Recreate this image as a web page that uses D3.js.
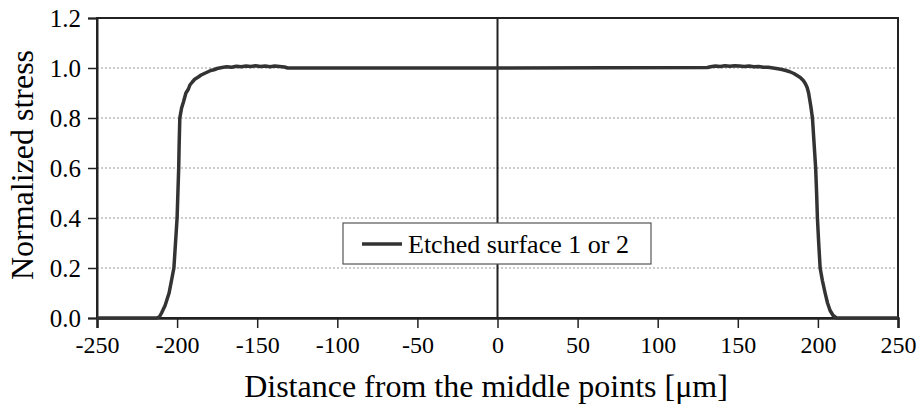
<!DOCTYPE html>
<html>
<head>
<meta charset="utf-8">
<script src="https://cdn.jsdelivr.net/npm/d3@7/dist/d3.min.js"></script>
</head>
<body style="margin:0">
<svg id="chart" width="922" height="410"></svg>
<script>
// Stress profile across the specimen: position [µm] and normalized stress
const positions = [
  -250, -212.8, -211, -209.7, -207.5, -205, -203.5, -202, -201, -200, -199.5, -199, -198.7, -198.3,
  -197.2, -196, -194.5, -193, -192, -190.5, -189, -187, -185, -183, -181, -179, -177, -175,
  -172, -169, -166, -163, -160, -157, -154, -151, -148, -145, -142, -139, -136, -133, -131,
  0,
  131, 133, 136, 139, 142, 145, 148, 151, 154, 157, 160, 163, 166, 169, 172, 175,
  177.5, 180, 182.5, 185, 187, 189, 190.9, 192.2, 193.3, 194.2, 195.5, 196.6, 197.6, 198.6,
  199.2, 199.7, 200.5, 201.4, 202.8, 204.5, 206, 207.6, 209.5, 211.6, 250
];
const stress = [
  0, 0, 0.005, 0.02, 0.05, 0.1, 0.15, 0.2, 0.3, 0.4, 0.5, 0.6, 0.7, 0.8,
  0.84, 0.865, 0.9, 0.915, 0.932, 0.944, 0.955, 0.963, 0.972, 0.978, 0.984, 0.99, 0.993, 0.998,
  1.002, 1.005, 1.003, 1.007, 1.005, 1.008, 1.006, 1.009, 1.006, 1.008, 1.005, 1.008, 1.006, 1.004, 1.0,
  1.0,
  1.002, 1.005, 1.008, 1.006, 1.009, 1.007, 1.009, 1.008, 1.006, 1.008, 1.005, 1.006, 1.003, 1.003, 1.0, 0.997,
  0.994, 0.99, 0.985, 0.978, 0.97, 0.962, 0.95, 0.937, 0.922, 0.9, 0.85, 0.8, 0.7, 0.6,
  0.5, 0.4, 0.3, 0.2, 0.15, 0.1, 0.06, 0.03, 0.01, 0, 0
];

const xTicks = [-250, -200, -150, -100, -50, 0, 50, 100, 150, 200, 250];
const yTicks = [0, 0.2, 0.4, 0.6, 0.8, 1.0, 1.2];
const seriesName = "Etched surface 1 or 2";
const xTitle = "Distance from the middle points [\u03bcm]";
const yTitle = "Normalized stress";

const FONT = "'Liberation Serif'";

// Measure the legend label so the legend box fits it
const ctx = document.createElement("canvas").getContext("2d");
ctx.font = `26px ${FONT}, serif`;
const labelWidth = ctx.measureText(seriesName).width;

const svg = d3.select("#chart");
const margin = { left: 97, right: 24, top: 18, bottom: 92 };
const W = 922, H = 410;
const x = d3.scaleLinear().domain([-250, 250]).range([margin.left, W - margin.right]);
const y = d3.scaleLinear().domain([0, 1.2]).range([H - margin.bottom, margin.top]);

// Dotted horizontal gridlines
svg.append("g")
  .selectAll("line")
  .data(yTicks.filter(t => t > 0 && t < 1.2))
  .join("line")
  .attr("x1", x(-250)).attr("x2", x(250))
  .attr("y1", d => y(d)).attr("y2", d => y(d))
  .attr("stroke", "#9a9a9a")
  .attr("stroke-width", 1.2)
  .attr("stroke-dasharray", "2,2");

// Plot frame
svg.append("rect")
  .attr("x", x(-250)).attr("y", y(1.2))
  .attr("width", x(250) - x(-250)).attr("height", y(0) - y(1.2))
  .attr("fill", "none").attr("stroke", "#222").attr("stroke-width", 2);

// Vertical line at the middle point
svg.append("line")
  .attr("x1", x(0)).attr("x2", x(0))
  .attr("y1", y(1.2)).attr("y2", y(0))
  .attr("stroke", "#222").attr("stroke-width", 2);

// Axes
const xAxis = d3.axisBottom(x).tickValues(xTicks).tickSize(10).tickPadding(8)
  .tickFormat(d => String(d));
const gx = svg.append("g").attr("transform", `translate(0,${y(0)})`).call(xAxis);
gx.attr("font-family", null).attr("font-size", null);
gx.select(".domain").attr("stroke", "#222").attr("stroke-width", 2.5);
gx.selectAll(".tick line").attr("stroke", "#222").attr("stroke-width", 1.5);
gx.selectAll(".tick text").attr("font-family", FONT).style("font-family", FONT)
  .attr("font-size", 24).attr("fill", "#000");

const yAxis = d3.axisLeft(y).tickValues(yTicks).tickSize(9).tickPadding(7)
  .tickFormat(d3.format(".1f"));
const gy = svg.append("g").attr("transform", `translate(${x(-250)},0)`).call(yAxis);
gy.attr("font-family", null).attr("font-size", null);
gy.select(".domain").attr("stroke", "#222").attr("stroke-width", 2);
gy.selectAll(".tick line").attr("stroke", "#222").attr("stroke-width", 1.5);
gy.selectAll(".tick text").attr("font-family", FONT).style("font-family", FONT)
  .attr("font-size", 25).attr("fill", "#000");

// Axis titles
svg.append("text")
  .attr("x", 486).attr("y", 397)
  .attr("text-anchor", "middle").attr("font-size", 32)
  .attr("font-family", FONT).style("font-family", FONT).attr("fill", "#000")
  .text(xTitle);
svg.append("text")
  .attr("transform", "translate(33,165) rotate(-90)")
  .attr("text-anchor", "middle").attr("font-size", 32)
  .attr("font-family", FONT).style("font-family", FONT).attr("fill", "#000")
  .text(yTitle);

// Stress curve
const pts = positions.map((p, i) => [p, stress[i]]);
svg.append("path")
  .datum(pts)
  .attr("fill", "none")
  .attr("stroke", "#333")
  .attr("stroke-width", 3.5)
  .attr("stroke-linejoin", "round")
  .attr("d", d3.line().x(d => x(d[0])).y(d => y(d[1])));

// Legend
const lg = svg.append("g").attr("transform", "translate(343,223)");
lg.append("rect").attr("width", Math.max(308, 65 + labelWidth + 20)).attr("height", 41)
  .attr("fill", "#fff").attr("stroke", "#555").attr("stroke-width", 1.2);
lg.append("line").attr("x1", 19).attr("x2", 59).attr("y1", 21).attr("y2", 21)
  .attr("stroke", "#333").attr("stroke-width", 3.5);
lg.append("text").attr("x", 65).attr("y", 30).attr("font-size", 26)
  .attr("font-family", FONT).style("font-family", FONT).attr("fill", "#000").text(seriesName);
</script>
</body>
</html>
